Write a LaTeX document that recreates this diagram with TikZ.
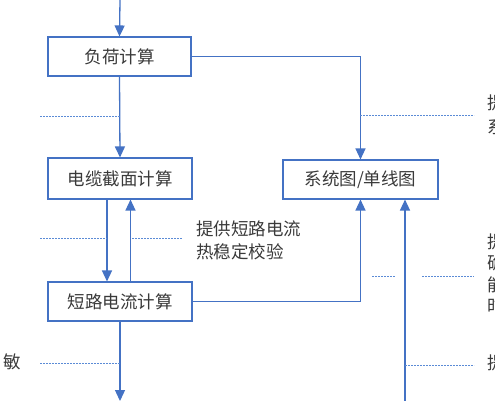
\documentclass[tikz,border=0pt]{standalone}
\usepackage{fontspec}
\newfontfamily\cjk{Noto Sans CJK SC}
\usetikzlibrary{arrows.meta}
\definecolor{lineblue}{HTML}{4472C4}
\definecolor{dashblue}{HTML}{5B8BD6}
\definecolor{txt}{HTML}{3A3A3A}
\tikzset{
  box/.style={draw=lineblue, line width=1.1pt, fill=white, inner sep=0pt,
    minimum width=143pt, minimum height=39pt, font=\cjk\fontsize{17.5}{20}\selectfont, text=txt},
  conn/.style={draw=lineblue, line width=1.3pt, -{Triangle[length=11pt,width=10pt]}},
  note/.style={draw=dashblue, line width=0.8pt, dash pattern=on 2pt off 1pt},
  lbl/.style={font=\cjk\fontsize{17.5}{23}\selectfont, text=txt, inner sep=0pt, align=left}
}
\begin{document}
\begin{tikzpicture}[x=1pt,y=-1pt]
\useasboundingbox[fill=white] (0,0) rectangle (495,400);
\begin{scope}
\clip (0,0) rectangle (495,400);
% boxes
\node[box] (load) at (119.5,56.5) {负荷计算};
\node[box, minimum width=144pt, minimum height=41pt] (cable) at (120,178.5) {电缆截面计算};
\node[box, minimum width=144pt] (sc) at (120,301.5) {短路电流计算};
\node[box, minimum width=155pt] (sys) at (360.5,179.5) {系统图/单线图};
% free ends
\coordinate (top) at (120,0);
\coordinate (bot1) at (120,401);
\coordinate (bot2) at (405,401);
% connectors
\draw[conn] (top) -- (load.north);
\draw[conn] (load.east) -| (sys.north);
\draw[conn] (load.south) -- (cable.north);
\draw[conn] ([xshift=-13pt]cable.south) -- ([xshift=-13pt]sc.north);
\draw[conn] ([xshift=10.5pt]sc.north) -- ([xshift=10.5pt]cable.south);
\draw[conn] (sc.east) -| (sys.south);
\draw[conn] (bot2) -- (bot2 |- sys.south);
\draw[conn] (sc.south) -- (bot1);
% dashed annotation lines
\coordinate (d1a) at (40,116);  \coordinate (d1b) at (120,116);
\coordinate (d2a) at (360,115); \coordinate (d2b) at (474,115);
\coordinate (d3a) at (40,238);  \coordinate (d3b) at (107,238);
\coordinate (d4a) at (132,238); \coordinate (d4b) at (182,238);
\coordinate (d5a) at (372,276); \coordinate (d5b) at (395,276);
\coordinate (d6a) at (422,276); \coordinate (d6b) at (474,276);
\coordinate (d7a) at (405,365); \coordinate (d7b) at (474,365);
\coordinate (d8a) at (40,363);  \coordinate (d8b) at (120,363);
\draw[note] (d1a) -- (d1b);
\draw[note] (d2a) -- (d2b);
\draw[note] (d3a) -- (d3b);
\draw[note] (d4a) -- (d4b);
\draw[note] (d5a) -- (d5b);
\draw[note] (d6a) -- (d6b);
\draw[note] (d7a) -- (d7b);
\draw[note] (d8a) -- (d8b);
% labels
\node[lbl, anchor=west] (t1) at (196,240) {提供短路电流\\热稳定校验};
\node[lbl, anchor=west, font=\cjk\fontsize{17.5}{24}\selectfont] (t2) at (487,115) {提\\系};
\node[lbl, anchor=west, font=\cjk\fontsize{17.5}{21.5}\selectfont] (t3) at (487,274) {提\\确\\能\\时};
\node[lbl, anchor=west] (t4) at (487,363) {提};
\node[lbl, anchor=west] (t5) at (3,362) {敏};
\end{scope}
\end{tikzpicture}
\end{document}
